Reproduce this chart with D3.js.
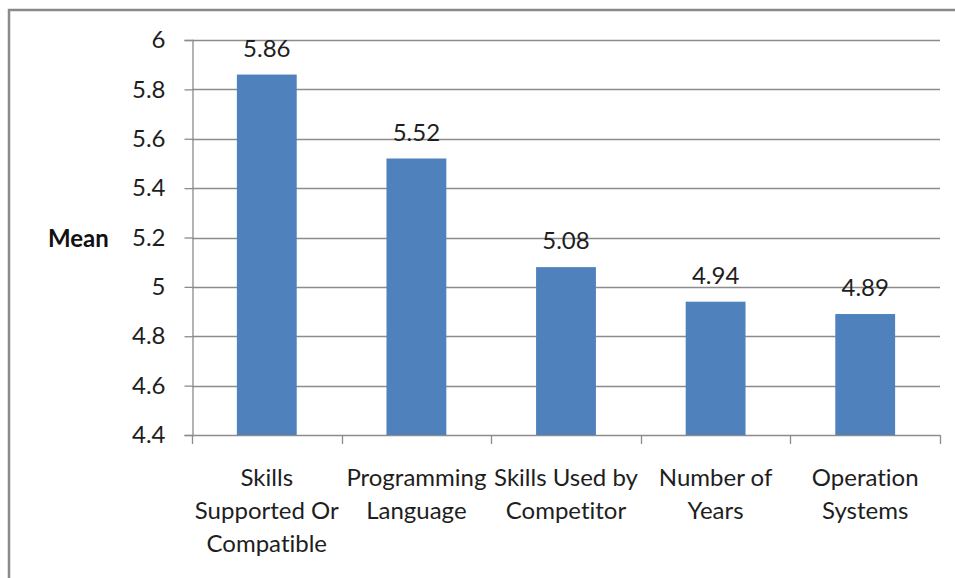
<!DOCTYPE html>
<html>
<head>
<meta charset="utf-8">
<script src="https://cdn.jsdelivr.net/npm/d3@7"></script>
<style>
  html, body { margin: 0; padding: 0; background: #fff; }
  svg { display: block; font-family: Lato, "Open Sans", sans-serif; font-variant-ligatures: none; font-feature-settings: "liga" 0, "clig" 0; }
</style>
</head>
<body>
<svg id="chart" width="955" height="578"></svg>
<script>
// Mean rating per factor
const categories = [
  ["Skills", "Supported Or", "Compatible"],
  ["Programming", "Language"],
  ["Skills Used by", "Competitor"],
  ["Number of", "Years"],
  ["Operation", "Systems"]
];
const means = [5.86, 5.52, 5.08, 4.94, 4.89];
const yTicks = [4.4, 4.6, 4.8, 5, 5.2, 5.4, 5.6, 5.8, 6];
const yLabel = "Mean";

const svg = d3.select("#chart");
const margin = { left: 192, right: 15, top: 40, bottom: 143 };
const W = 955, H = 578;
const gridColor = "#8c8c8c";
const textColor = "#1e1e1e";

// outer frame of the chart area
svg.append("rect")
  .attr("x", 9).attr("y", 10)
  .attr("width", 960).attr("height", 600)
  .attr("fill", "none")
  .attr("stroke", "#8a8a8a")
  .attr("stroke-width", 2.5);

const x = d3.scaleBand()
  .domain(d3.range(categories.length))
  .range([margin.left, W - margin.right])
  .paddingInner(0.6).paddingOuter(0.3);

const y = d3.scaleLinear()
  .domain([4.4, 6])
  .range([H - margin.bottom, margin.top]);

// horizontal gridlines
svg.append("g")
  .selectAll("line")
  .data(yTicks.filter(t => t > 4.4))
  .join("line")
  .attr("x1", margin.left).attr("x2", W - margin.right)
  .attr("y1", d => Math.round(y(d)) + 0.5).attr("y2", d => Math.round(y(d)) + 0.5)
  .attr("stroke", gridColor).attr("stroke-width", 1.3);

// y axis
const yAxis = svg.append("g")
  .attr("transform", `translate(${margin.left + 0.5},0)`)
  .call(d3.axisLeft(y).tickValues(yTicks).tickSize(8).tickPadding(19)
    .tickFormat(d3.format("~g")));
yAxis.select(".domain").attr("stroke", gridColor).attr("stroke-width", 1.3);
yAxis.selectAll(".tick line").attr("stroke", gridColor).attr("stroke-width", 1.3);
yAxis.selectAll(".tick text")
  .attr("font-size", 24).attr("fill", textColor)
  .attr("font-family", "Lato, sans-serif");

// x axis baseline with category boundary ticks
const step = x.step();
const bounds = d3.range(categories.length + 1).map(i => margin.left + i * step);
const xg = svg.append("g");
xg.append("line")
  .attr("x1", margin.left).attr("x2", W - margin.right)
  .attr("y1", Math.round(y(4.4)) + 0.5).attr("y2", Math.round(y(4.4)) + 0.5)
  .attr("stroke", gridColor).attr("stroke-width", 1.3);
xg.selectAll("line.tk")
  .data(bounds)
  .join("line").attr("class", "tk")
  .attr("x1", d => Math.round(d) + 0.5).attr("x2", d => Math.round(d) + 0.5)
  .attr("y1", y(4.4)).attr("y2", y(4.4) + 9)
  .attr("stroke", gridColor).attr("stroke-width", 1.3);

// bars
svg.append("g")
  .selectAll("rect")
  .data(means)
  .join("rect")
  .attr("x", (d, i) => x(i))
  .attr("width", x.bandwidth())
  .attr("y", d => y(d))
  .attr("height", d => y(4.4) - y(d))
  .attr("fill", "#4f81bd");

// value labels
svg.append("g")
  .selectAll("text")
  .data(means)
  .join("text")
  .attr("x", (d, i) => x(i) + x.bandwidth() / 2)
  .attr("y", d => y(d) - 18)
  .attr("text-anchor", "middle")
  .attr("font-size", 24).attr("fill", textColor)
  .text(d => d3.format(".2f")(d));

// category labels
const cl = svg.append("g")
  .selectAll("text")
  .data(categories)
  .join("text")
  .attr("text-anchor", "middle")
  .attr("font-size", 24).attr("fill", textColor);
cl.selectAll("tspan")
  .data((d, i) => d.map(line => ({ line, i })))
  .join("tspan")
  .attr("x", d => x(d.i) + x.bandwidth() / 2)
  .attr("y", (d, j) => 486 + j * 33)
  .text(d => d.line);

// axis title
svg.append("text")
  .attr("x", 48).attr("y", 247)
  .attr("font-size", 24).attr("font-weight", "bold").attr("fill", "#111")
  .text(yLabel);
</script>
</body>
</html>
